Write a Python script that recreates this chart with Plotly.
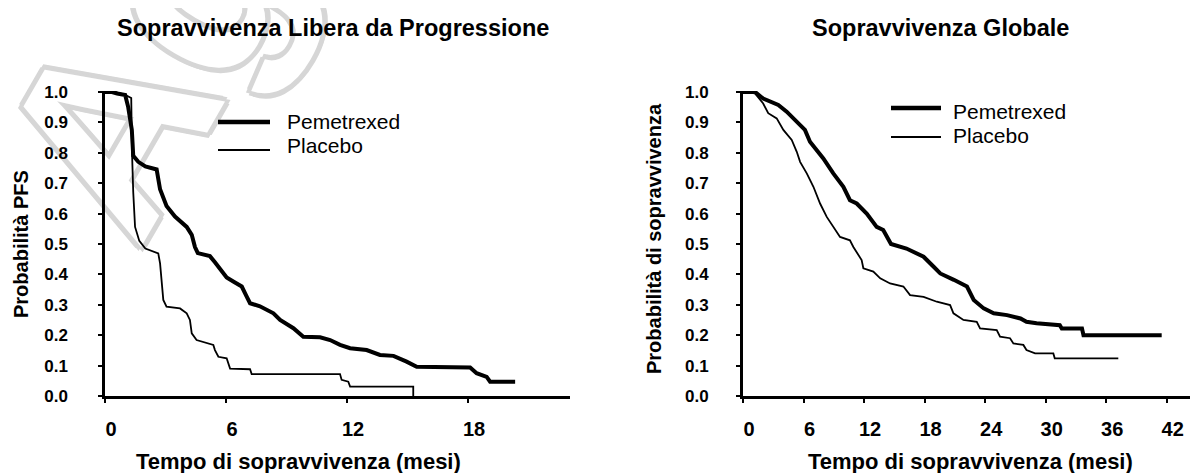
import plotly.graph_objects as go

# page body has an 8px margin: draw a 1190x465 figure so it fills the 1198x473 window
OFF = 8
W, H = 1198 - OFF, 473 - OFF

# ---------------- data ----------------
pfs_pem_t = [0, 0.3, 0.6, 0.9, 1.0, 1.15, 1.33, 1.4, 1.65, 2.0, 2.3, 2.56, 2.73, 2.9, 3.05,
             3.47, 4.05, 4.3, 4.46, 4.6, 5.2, 5.45, 5.7, 6.03, 6.4, 6.78, 7.0, 7.19, 7.68,
             8.35, 8.68, 9.34, 9.83, 10.66, 11.16, 11.65, 12.15, 12.97, 13.63, 14.3, 14.95,
             15.45, 18.1, 18.42, 18.92, 19.09, 20.33]
pfs_pem_s = [1.0, 1.0, 0.995, 0.99, 0.99, 0.95, 0.875, 0.79, 0.77, 0.755, 0.75, 0.745, 0.68,
             0.65, 0.625, 0.59, 0.556, 0.53, 0.49, 0.47, 0.46, 0.44, 0.42, 0.39, 0.375, 0.36,
             0.33, 0.305, 0.295, 0.272, 0.25, 0.223, 0.195, 0.193, 0.184, 0.168, 0.157, 0.151,
             0.135, 0.132, 0.113, 0.096, 0.094, 0.075, 0.063, 0.047, 0.047]

pfs_pla_t = [0, 0.5, 1.0, 1.3, 1.34, 1.4, 1.49, 1.7, 2.0, 2.4, 2.64, 2.73, 2.81, 2.89, 3.05,
             3.72, 4.05, 4.21, 4.3, 4.54, 5.37, 5.45, 5.62, 6.03, 6.2, 7.19, 7.27, 11.65,
             11.73, 12.06, 12.15, 15.28, 15.28]
pfs_pla_s = [1.0, 1.0, 0.99, 0.98, 0.8, 0.67, 0.556, 0.51, 0.485, 0.475, 0.469, 0.436, 0.37,
             0.316, 0.294, 0.288, 0.272, 0.25, 0.206, 0.184, 0.168, 0.151, 0.129, 0.124, 0.09,
             0.088, 0.072, 0.072, 0.053, 0.047, 0.031, 0.031, 0.0]

os_pem_t = [0, 1.19, 2.0, 2.84, 3.5, 4.33, 5.15, 6.14, 6.64, 7.3, 7.96, 8.95, 9.95, 10.6,
            11.27, 12.26, 13.25, 13.9, 14.67, 16.2, 17.9, 18.9, 19.55, 20.9, 22.2, 22.87,
            23.86, 24.85, 26.17, 27.5, 28.1, 29.1, 31.4, 31.6, 33.6, 33.75, 41.5]
os_pem_s = [1.0, 1.0, 0.978, 0.965, 0.957, 0.935, 0.908, 0.875, 0.836, 0.809, 0.781, 0.732,
            0.688, 0.644, 0.633, 0.6, 0.556, 0.546, 0.5, 0.485, 0.458, 0.425, 0.403, 0.382,
            0.36, 0.316, 0.288, 0.272, 0.266, 0.255, 0.244, 0.239, 0.233, 0.222, 0.222, 0.2, 0.2]

os_pla_t = [0, 1.19, 2.0, 2.5, 3.34, 4.0, 4.83, 5.33, 5.66, 6.32, 6.98, 7.64, 8.3, 8.96, 9.62,
            10.6, 10.94, 11.76, 11.93, 12.92, 13.6, 14.58, 15.9, 16.56, 17.9, 19.21, 20.53,
            20.86, 21.85, 23.17, 23.5, 25.15, 25.48, 26.47, 26.8, 27.79, 28.1, 28.95, 30.76,
            30.9, 37.2]
os_pla_s = [1.0, 0.995, 0.962, 0.93, 0.913, 0.875, 0.842, 0.803, 0.77, 0.732, 0.688, 0.633,
            0.589, 0.556, 0.523, 0.512, 0.49, 0.447, 0.42, 0.409, 0.387, 0.37, 0.36, 0.332,
            0.326, 0.31, 0.299, 0.272, 0.25, 0.244, 0.222, 0.217, 0.195, 0.19, 0.173, 0.168,
            0.151, 0.14, 0.14, 0.124, 0.124]

pfs_xticks = [0, 6, 12, 18]
os_xticks = [0, 6, 12, 18, 24, 30, 36, 42]
y_ticks = [0.0, 0.1, 0.2, 0.3, 0.4, 0.5, 0.6, 0.7, 0.8, 0.9, 1.0]

series_names = ["Pemetrexed", "Placebo"]
titles = ["Sopravvivenza Libera da Progressione", "Sopravvivenza Globale"]
x_title = "Tempo di sopravvivenza (mesi)"
y_titles = ["Probabilità PFS", "Probabilità di sopravvivenza"]
watermark = "Agenzia"

# ---------------- layout helpers (window pixel -> paper) ----------------
def px(x):
    return (x - OFF) / W

def py(y):
    return 1 - (y - OFF) / H

FONT = "Liberation Sans, Arial, Helvetica, sans-serif"
THICK, THIN = 4, 1.8

fig = go.Figure()
fig.add_trace(go.Scatter(x=pfs_pem_t, y=pfs_pem_s, mode="lines", name=series_names[0],
                         line=dict(color="black", width=THICK), cliponaxis=False,
                         xaxis="x", yaxis="y"))
fig.add_trace(go.Scatter(x=pfs_pla_t, y=pfs_pla_s, mode="lines", name=series_names[1],
                         line=dict(color="black", width=THIN), cliponaxis=False,
                         xaxis="x", yaxis="y"))
fig.add_trace(go.Scatter(x=os_pem_t, y=os_pem_s, mode="lines", name=series_names[0],
                         line=dict(color="black", width=THICK), cliponaxis=False,
                         xaxis="x2", yaxis="y2"))
fig.add_trace(go.Scatter(x=os_pla_t, y=os_pla_s, mode="lines", name=series_names[1],
                         line=dict(color="black", width=THIN), cliponaxis=False,
                         xaxis="x2", yaxis="y2"))

y_dom = [py(396), py(91)]

def xaxis(dom, rng, ticks):
    return dict(domain=dom, range=rng, tickvals=ticks, ticktext=[str(t) for t in ticks],
                showline=True, linecolor="black", linewidth=2.5, showgrid=False,
                zeroline=False, ticks="outside", ticklen=4, tickwidth=2, tickcolor="black",
                tickfont=dict(family=FONT, size=20, color="black", weight="bold"),
                ticklabelstandoff=9, ticklabelshift=6, fixedrange=True, automargin=False)

def yaxis(anchor, lw, standoff):
    return dict(domain=y_dom, range=[0, 1.003], tickvals=y_ticks, tickformat=".1f",
                anchor=anchor, showline=True, linecolor="black", linewidth=lw,
                showgrid=False, zeroline=False, ticks="outside", ticklen=4, tickwidth=1.5,
                tickcolor="black",
                tickfont=dict(family=FONT, size=17, color="black", weight="bold"),
                ticklabelstandoff=standoff, fixedrange=True, automargin=False)

layout = dict(
    width=W, height=H, margin=dict(l=0, r=0, t=0, b=0, pad=0, autoexpand=False),
    paper_bgcolor="white", plot_bgcolor="white", showlegend=False,
    xaxis=xaxis([px(105), px(570)], [0, 23.05], pfs_xticks) | dict(anchor="y"),
    yaxis=yaxis("x", 2.5, 27),
    xaxis2=xaxis([px(743), 1.0], [0, 45.1], os_xticks) | dict(anchor="y2"),
    yaxis2=yaxis("x2", 3, 24),
)
fig.update_layout(**layout)

ann = []
def text(x, y, s, size, bold=True, angle=0, xanchor="center"):
    ann.append(dict(x=px(x), y=py(y), xref="paper", yref="paper", text=s, showarrow=False,
                    xanchor=xanchor, yanchor="middle", textangle=angle,
                    font=dict(family=FONT, size=size, color="black",
                              weight="bold" if bold else "normal")))

# chart titles
text(333, 28, titles[0], 23.5)
text(940, 28, titles[1], 23.5)
# axis titles
text(298, 461, x_title, 22)
text(970, 461, x_title, 22)
text(21, 244, y_titles[0], 20, angle=-90)
text(654, 239, y_titles[1], 20, angle=-90)

# legends
shapes = []
def legend(x0, x1, xt, y_pem_line, y_pem_txt, y_pla_line, y_pla_txt):
    shapes.append(dict(type="line", xref="paper", yref="paper", x0=px(x0), x1=px(x1),
                       y0=py(y_pem_line), y1=py(y_pem_line),
                       line=dict(color="black", width=4.5)))
    shapes.append(dict(type="line", xref="paper", yref="paper", x0=px(x0), x1=px(x1),
                       y0=py(y_pla_line), y1=py(y_pla_line),
                       line=dict(color="black", width=2)))
    text(xt, y_pem_txt, series_names[0], 21, bold=False, xanchor="left")
    text(xt, y_pla_txt, series_names[1], 21, bold=False, xanchor="left")

legend(218, 270, 285, 122, 121, 150, 145)
legend(891, 941, 951, 108, 112, 137, 135)

# watermark (outlined light-grey text, under the data)
g = "#d6d6d6"
wm_font = dict(family=FONT, size=250, color="white", weight="bold",
               shadow=(f"4px 4px 0 {g}, -4px -4px 0 {g}, 4px -4px 0 {g}, -4px 4px 0 {g}, "
                       f"5px 0 0 {g}, -5px 0 0 {g}, 0 5px 0 {g}, 0 -5px 0 {g}"))
cx, cy = 282, -218
shapes.insert(0, dict(type="rect", xref="paper", yref="paper", layer="below",
                      x0=px(cx - 5), x1=px(cx + 5), y0=py(cy + 5), y1=py(cy - 5),
                      line=dict(width=0), fillcolor="rgba(0,0,0,0)",
                      label=dict(text=watermark, textangle=-60, font=wm_font,
                                 textposition="middle center")))

fig.update_layout(annotations=ann, shapes=shapes)
fig.write_html("out.html")
